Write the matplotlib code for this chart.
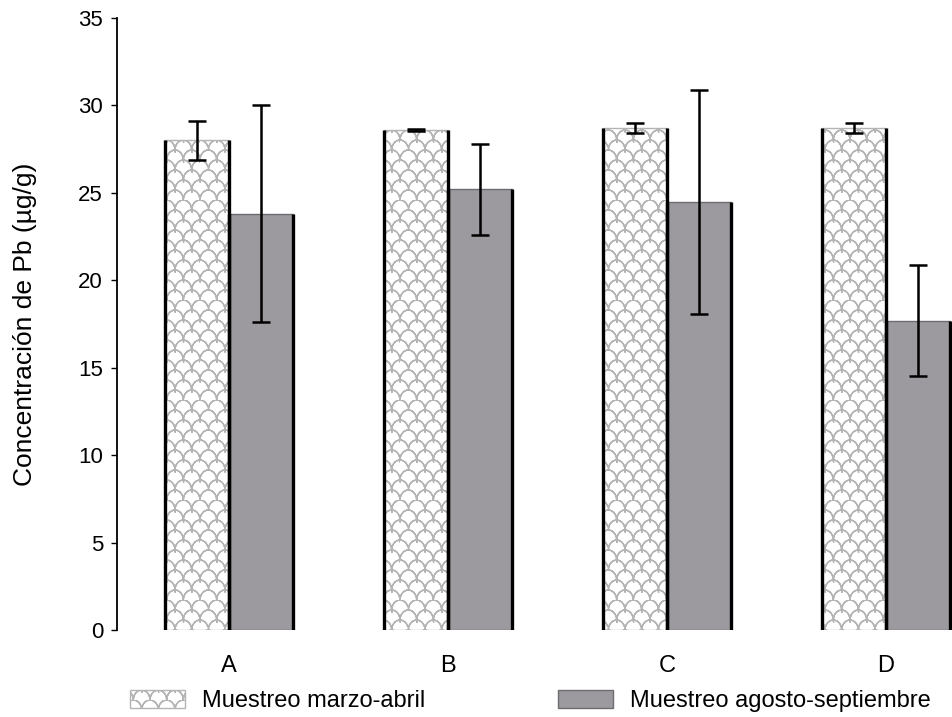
import numpy as np
import matplotlib
matplotlib.use("Agg")
import matplotlib.hatch as mhatch
from matplotlib import pyplot as plt
from matplotlib.path import Path

# Datos: concentración de Pb por sitio y muestreo
sitios = ["A", "B", "C", "D"]
marzo_abril = [28.0, 28.6, 28.7, 28.7]
marzo_abril_err = [1.1, 0.05, 0.3, 0.3]
agosto_sept = [23.8, 25.2, 24.5, 17.7]
agosto_sept_err = [6.2, 2.6, 6.4, 3.2]
etiquetas = ["Muestreo marzo-abril", "Muestreo agosto-septiembre"]


# Trama de escamas (reemplaza el patron 'o' de matplotlib).
# Cada arco se recorre de ida y vuelta para que el relleno no cierre el arco.
class EscamasHatch(mhatch.HatchPatternBase):
    cols, rows, seg = 6, 10, 12

    def __init__(self, hatch, density):
        self.num_arcs = (self.cols + 2) * self.rows if "o" in hatch else 0
        self.num_vertices = self.num_arcs * self.seg * 2

    def set_vertices_and_codes(self, vertices, codes):
        t = np.linspace(np.pi, 0, self.seg)
        t = np.concatenate([t, t[::-1]])
        w = 1.0 / self.cols
        h = 1.0 / self.rows
        n = 2 * self.seg
        k = 0
        for j in range(self.rows):
            off = (j % 2) * w / 2
            for i in range(-1, self.cols + 1):
                x0 = i * w + off
                vertices[k:k + n, 0] = x0 + w / 2 * (1 + np.cos(t))
                vertices[k:k + n, 1] = j * h + h * np.sin(t)
                codes[k] = Path.MOVETO
                codes[k + 1:k + n] = Path.LINETO
                k += n


idx = mhatch._hatch_types.index(mhatch.SmallCircles)
mhatch._hatch_types[idx] = EscamasHatch

plt.rcParams["font.family"] = ["Liberation Sans", "DejaVu Sans"]
plt.rcParams["hatch.linewidth"] = 1.0

fig = plt.figure(figsize=(9.52, 7.17), dpi=100)
ax = fig.add_axes([0.1229, 0.1213, 0.8771, 0.8536])

x = np.arange(len(sitios))
ancho = 0.292

b1 = ax.bar(x - ancho / 2, marzo_abril, ancho, color="white", edgecolor="#b4b4b4",
            hatch="o", linewidth=1.0, label=etiquetas[0], zorder=2)
b2 = ax.bar(x + ancho / 2, agosto_sept, ancho, color="#9d9a9f", edgecolor="#6e6c70",
            linewidth=1.0, label=etiquetas[1], zorder=2)

# bordes laterales gruesos de cada barra
for pos, vals in [(x - ancho / 2, marzo_abril), (x + ancho / 2, agosto_sept)]:
    ax.vlines(pos - ancho / 2, 0, vals, color="black", linewidth=2.4, zorder=3)
    ax.vlines(pos + ancho / 2, 0, vals, color="black", linewidth=2.4, zorder=3)

ax.errorbar(x - ancho / 2, marzo_abril, yerr=marzo_abril_err, fmt="none",
            ecolor="black", elinewidth=1.8, capsize=6.5, capthick=1.8, zorder=4)
ax.errorbar(x + ancho / 2, agosto_sept, yerr=agosto_sept_err, fmt="none",
            ecolor="black", elinewidth=1.8, capsize=6.5, capthick=1.8, zorder=4)

ax.set_xlim(-0.5114, 3.301)
ax.set_ylim(0, 35)
ax.set_yticks(np.arange(0, 36, 5))
ax.set_xticks(x)
ax.set_xticklabels(sitios, fontsize=17)
ax.tick_params(axis="x", length=0, pad=18)
ax.tick_params(axis="y", length=4, width=1.0, labelsize=16, pad=6)

for s in ["top", "right", "bottom"]:
    ax.spines[s].set_visible(False)
ax.spines["left"].set_linewidth(1.3)

ax.set_ylabel("Concentración de Pb (µg/g)", fontsize=19, labelpad=30)

fig.legend(handles=[b1, b2], loc="center left", bbox_to_anchor=(0.1143, 0.0223),
           ncol=2, frameon=False, fontsize=17, handlelength=2.33,
           handleheight=0.76, handletextpad=0.7, columnspacing=5.64)

fig.savefig("out.png", dpi=100)
